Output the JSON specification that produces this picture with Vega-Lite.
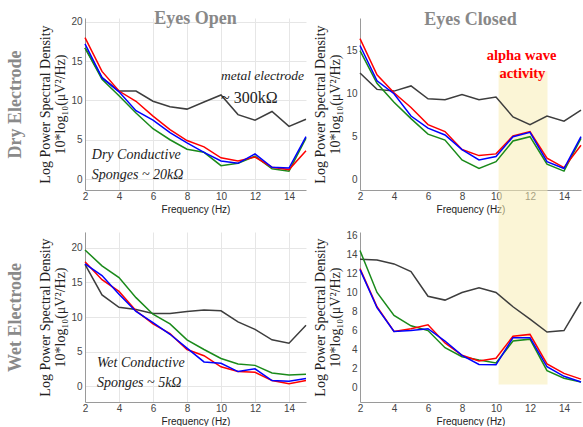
{
"$schema": "https://vega.github.io/schema/vega-lite/v6.json",
"padding": {"left": 6, "top": 9, "right": 0, "bottom": 0},
"background": "white",
"datasets": {
"psd": [
{"p":"DO","s":"s0","f":2,"v":16.7},{"p":"DO","s":"s0","f":3,"v":12.9},{"p":"DO","s":"s0","f":4,"v":11.2},{"p":"DO","s":"s0","f":5,"v":11.2},{"p":"DO","s":"s0","f":6,"v":9.9},{"p":"DO","s":"s0","f":7,"v":9.2},{"p":"DO","s":"s0","f":8,"v":8.9},{"p":"DO","s":"s0","f":9,"v":9.8},{"p":"DO","s":"s0","f":10,"v":10.7},{"p":"DO","s":"s0","f":11,"v":8.2},{"p":"DO","s":"s0","f":12,"v":7.5},{"p":"DO","s":"s0","f":13,"v":8.6},{"p":"DO","s":"s0","f":14,"v":6.7},{"p":"DO","s":"s0","f":15,"v":7.6},
{"p":"DO","s":"s1","f":2,"v":16.7},{"p":"DO","s":"s1","f":3,"v":12.7},{"p":"DO","s":"s1","f":4,"v":10.6},{"p":"DO","s":"s1","f":5,"v":8.4},{"p":"DO","s":"s1","f":6,"v":6.4},{"p":"DO","s":"s1","f":7,"v":5.0},{"p":"DO","s":"s1","f":8,"v":3.8},{"p":"DO","s":"s1","f":9,"v":3.4},{"p":"DO","s":"s1","f":10,"v":1.7},{"p":"DO","s":"s1","f":11,"v":2.0},{"p":"DO","s":"s1","f":12,"v":2.9},{"p":"DO","s":"s1","f":13,"v":1.3},{"p":"DO","s":"s1","f":14,"v":1.0},{"p":"DO","s":"s1","f":15,"v":5.2},
{"p":"DO","s":"s2","f":2,"v":18.0},{"p":"DO","s":"s2","f":3,"v":13.7},{"p":"DO","s":"s2","f":4,"v":11.2},{"p":"DO","s":"s2","f":5,"v":9.9},{"p":"DO","s":"s2","f":6,"v":8.0},{"p":"DO","s":"s2","f":7,"v":6.3},{"p":"DO","s":"s2","f":8,"v":4.9},{"p":"DO","s":"s2","f":9,"v":4.1},{"p":"DO","s":"s2","f":10,"v":2.7},{"p":"DO","s":"s2","f":11,"v":2.3},{"p":"DO","s":"s2","f":12,"v":2.8},{"p":"DO","s":"s2","f":13,"v":1.5},{"p":"DO","s":"s2","f":14,"v":1.2},{"p":"DO","s":"s2","f":15,"v":3.6},
{"p":"DO","s":"s3","f":2,"v":17.2},{"p":"DO","s":"s3","f":3,"v":12.9},{"p":"DO","s":"s3","f":4,"v":11.1},{"p":"DO","s":"s3","f":5,"v":8.7},{"p":"DO","s":"s3","f":6,"v":7.5},{"p":"DO","s":"s3","f":7,"v":5.9},{"p":"DO","s":"s3","f":8,"v":4.6},{"p":"DO","s":"s3","f":9,"v":3.4},{"p":"DO","s":"s3","f":10,"v":2.3},{"p":"DO","s":"s3","f":11,"v":2.0},{"p":"DO","s":"s3","f":12,"v":3.2},{"p":"DO","s":"s3","f":13,"v":1.5},{"p":"DO","s":"s3","f":14,"v":1.4},{"p":"DO","s":"s3","f":15,"v":5.4},
{"p":"DC","s":"s0","f":2,"v":12.4},{"p":"DC","s":"s0","f":3,"v":10.5},{"p":"DC","s":"s0","f":4,"v":10.3},{"p":"DC","s":"s0","f":5,"v":10.9},{"p":"DC","s":"s0","f":6,"v":9.4},{"p":"DC","s":"s0","f":7,"v":9.3},{"p":"DC","s":"s0","f":8,"v":9.9},{"p":"DC","s":"s0","f":9,"v":9.3},{"p":"DC","s":"s0","f":10,"v":9.6},{"p":"DC","s":"s0","f":11,"v":7.3},{"p":"DC","s":"s0","f":12,"v":6.4},{"p":"DC","s":"s0","f":13,"v":7.4},{"p":"DC","s":"s0","f":14,"v":6.8},{"p":"DC","s":"s0","f":15,"v":8.1},
{"p":"DC","s":"s1","f":2,"v":15.0},{"p":"DC","s":"s1","f":3,"v":11.2},{"p":"DC","s":"s1","f":4,"v":9.0},{"p":"DC","s":"s1","f":5,"v":7.1},{"p":"DC","s":"s1","f":6,"v":5.3},{"p":"DC","s":"s1","f":7,"v":4.6},{"p":"DC","s":"s1","f":8,"v":2.3},{"p":"DC","s":"s1","f":9,"v":1.3},{"p":"DC","s":"s1","f":10,"v":2.1},{"p":"DC","s":"s1","f":11,"v":4.5},{"p":"DC","s":"s1","f":12,"v":5.0},{"p":"DC","s":"s1","f":13,"v":1.8},{"p":"DC","s":"s1","f":14,"v":1.0},{"p":"DC","s":"s1","f":15,"v":4.8},
{"p":"DC","s":"s2","f":2,"v":16.4},{"p":"DC","s":"s2","f":3,"v":12.2},{"p":"DC","s":"s2","f":4,"v":10.1},{"p":"DC","s":"s2","f":5,"v":8.4},{"p":"DC","s":"s2","f":6,"v":6.4},{"p":"DC","s":"s2","f":7,"v":5.6},{"p":"DC","s":"s2","f":8,"v":3.5},{"p":"DC","s":"s2","f":9,"v":2.8},{"p":"DC","s":"s2","f":10,"v":3.0},{"p":"DC","s":"s2","f":11,"v":5.1},{"p":"DC","s":"s2","f":12,"v":5.6},{"p":"DC","s":"s2","f":13,"v":2.5},{"p":"DC","s":"s2","f":14,"v":1.4},{"p":"DC","s":"s2","f":15,"v":4.0},
{"p":"DC","s":"s3","f":2,"v":15.6},{"p":"DC","s":"s3","f":3,"v":11.5},{"p":"DC","s":"s3","f":4,"v":10.0},{"p":"DC","s":"s3","f":5,"v":7.4},{"p":"DC","s":"s3","f":6,"v":6.0},{"p":"DC","s":"s3","f":7,"v":5.2},{"p":"DC","s":"s3","f":8,"v":3.5},{"p":"DC","s":"s3","f":9,"v":2.3},{"p":"DC","s":"s3","f":10,"v":2.7},{"p":"DC","s":"s3","f":11,"v":5.0},{"p":"DC","s":"s3","f":12,"v":5.5},{"p":"DC","s":"s3","f":13,"v":2.1},{"p":"DC","s":"s3","f":14,"v":1.3},{"p":"DC","s":"s3","f":15,"v":5.0},
{"p":"WO","s":"s0","f":2,"v":17.6},{"p":"WO","s":"s0","f":3,"v":13.2},{"p":"WO","s":"s0","f":4,"v":11.4},{"p":"WO","s":"s0","f":5,"v":11.1},{"p":"WO","s":"s0","f":6,"v":10.5},{"p":"WO","s":"s0","f":7,"v":10.5},{"p":"WO","s":"s0","f":8,"v":10.8},{"p":"WO","s":"s0","f":9,"v":11.0},{"p":"WO","s":"s0","f":10,"v":10.9},{"p":"WO","s":"s0","f":11,"v":9.3},{"p":"WO","s":"s0","f":12,"v":8.2},{"p":"WO","s":"s0","f":13,"v":6.7},{"p":"WO","s":"s0","f":14,"v":6.2},{"p":"WO","s":"s0","f":15,"v":8.8},
{"p":"WO","s":"s1","f":2,"v":19.7},{"p":"WO","s":"s1","f":3,"v":17.4},{"p":"WO","s":"s1","f":4,"v":15.7},{"p":"WO","s":"s1","f":5,"v":12.8},{"p":"WO","s":"s1","f":6,"v":10.4},{"p":"WO","s":"s1","f":7,"v":9.0},{"p":"WO","s":"s1","f":8,"v":6.7},{"p":"WO","s":"s1","f":9,"v":5.3},{"p":"WO","s":"s1","f":10,"v":4.0},{"p":"WO","s":"s1","f":11,"v":3.2},{"p":"WO","s":"s1","f":12,"v":3.0},{"p":"WO","s":"s1","f":13,"v":1.9},{"p":"WO","s":"s1","f":14,"v":1.6},{"p":"WO","s":"s1","f":15,"v":1.7},
{"p":"WO","s":"s2","f":2,"v":18.0},{"p":"WO","s":"s2","f":3,"v":15.4},{"p":"WO","s":"s2","f":4,"v":13.7},{"p":"WO","s":"s2","f":5,"v":10.9},{"p":"WO","s":"s2","f":6,"v":9.0},{"p":"WO","s":"s2","f":7,"v":7.6},{"p":"WO","s":"s2","f":8,"v":5.3},{"p":"WO","s":"s2","f":9,"v":4.4},{"p":"WO","s":"s2","f":10,"v":2.8},{"p":"WO","s":"s2","f":11,"v":2.1},{"p":"WO","s":"s2","f":12,"v":2.0},{"p":"WO","s":"s2","f":13,"v":0.8},{"p":"WO","s":"s2","f":14,"v":0.35},{"p":"WO","s":"s2","f":15,"v":0.8},
{"p":"WO","s":"s3","f":2,"v":17.7},{"p":"WO","s":"s3","f":3,"v":16.0},{"p":"WO","s":"s3","f":4,"v":13.3},{"p":"WO","s":"s3","f":5,"v":10.8},{"p":"WO","s":"s3","f":6,"v":9.2},{"p":"WO","s":"s3","f":7,"v":7.5},{"p":"WO","s":"s3","f":8,"v":5.5},{"p":"WO","s":"s3","f":9,"v":3.5},{"p":"WO","s":"s3","f":10,"v":3.3},{"p":"WO","s":"s3","f":11,"v":2.1},{"p":"WO","s":"s3","f":12,"v":2.5},{"p":"WO","s":"s3","f":13,"v":0.8},{"p":"WO","s":"s3","f":14,"v":0.7},{"p":"WO","s":"s3","f":15,"v":1.1},
{"p":"WC","s":"s0","f":2,"v":13.5},{"p":"WC","s":"s0","f":3,"v":13.4},{"p":"WC","s":"s0","f":4,"v":13.0},{"p":"WC","s":"s0","f":5,"v":12.2},{"p":"WC","s":"s0","f":6,"v":9.6},{"p":"WC","s":"s0","f":7,"v":9.2},{"p":"WC","s":"s0","f":8,"v":10.0},{"p":"WC","s":"s0","f":9,"v":10.5},{"p":"WC","s":"s0","f":10,"v":10.0},{"p":"WC","s":"s0","f":11,"v":8.5},{"p":"WC","s":"s0","f":12,"v":7.2},{"p":"WC","s":"s0","f":13,"v":5.85},{"p":"WC","s":"s0","f":14,"v":6.0},{"p":"WC","s":"s0","f":15,"v":9.0},
{"p":"WC","s":"s1","f":2,"v":14.4},{"p":"WC","s":"s1","f":3,"v":10.0},{"p":"WC","s":"s1","f":4,"v":7.6},{"p":"WC","s":"s1","f":5,"v":6.5},{"p":"WC","s":"s1","f":6,"v":6.0},{"p":"WC","s":"s1","f":7,"v":4.2},{"p":"WC","s":"s1","f":8,"v":3.25},{"p":"WC","s":"s1","f":9,"v":2.9},{"p":"WC","s":"s1","f":10,"v":2.6},{"p":"WC","s":"s1","f":11,"v":4.9},{"p":"WC","s":"s1","f":12,"v":5.1},{"p":"WC","s":"s1","f":13,"v":1.8},{"p":"WC","s":"s1","f":14,"v":1.0},{"p":"WC","s":"s1","f":15,"v":0.6},
{"p":"WC","s":"s2","f":2,"v":12.5},{"p":"WC","s":"s2","f":3,"v":8.5},{"p":"WC","s":"s2","f":4,"v":5.9},{"p":"WC","s":"s2","f":5,"v":6.2},{"p":"WC","s":"s2","f":6,"v":6.6},{"p":"WC","s":"s2","f":7,"v":4.7},{"p":"WC","s":"s2","f":8,"v":3.4},{"p":"WC","s":"s2","f":9,"v":2.8},{"p":"WC","s":"s2","f":10,"v":3.1},{"p":"WC","s":"s2","f":11,"v":5.4},{"p":"WC","s":"s2","f":12,"v":5.6},{"p":"WC","s":"s2","f":13,"v":2.5},{"p":"WC","s":"s2","f":14,"v":1.5},{"p":"WC","s":"s2","f":15,"v":0.9},
{"p":"WC","s":"s3","f":2,"v":12.4},{"p":"WC","s":"s3","f":3,"v":8.4},{"p":"WC","s":"s3","f":4,"v":5.9},{"p":"WC","s":"s3","f":5,"v":6.0},{"p":"WC","s":"s3","f":6,"v":6.2},{"p":"WC","s":"s3","f":7,"v":4.9},{"p":"WC","s":"s3","f":8,"v":3.4},{"p":"WC","s":"s3","f":9,"v":2.45},{"p":"WC","s":"s3","f":10,"v":2.4},{"p":"WC","s":"s3","f":11,"v":5.25},{"p":"WC","s":"s3","f":12,"v":5.25},{"p":"WC","s":"s3","f":13,"v":2.2},{"p":"WC","s":"s3","f":14,"v":1.2},{"p":"WC","s":"s3","f":15,"v":0.6}
]
},
"vconcat": [
{
"spacing": 4,
"hconcat": [
{
"width": 221, "height": 172,
"title": {"text": "Eyes Open", "offset": -11},
"resolve": {"axis": {"y": "independent"}},
"layer": [
{"data": {"name": "psd"}, "transform": [{"filter": "datum.p == 'DO'"}],
 "mark": {"type": "line", "strokeWidth": 1.5},
 "encoding": {
  "x": {"field": "f", "type": "quantitative", "scale": {"domain": [2, 15], "nice": false}, "axis": {"values": [2,4,6,8,10,12,14], "tickCount": 20, "format": "d", "labelOverlap": false, "labelFlush": false, "title": "Frequency (Hz)"}},
  "y": {"field": "v", "type": "quantitative", "scale": {"domain": [-1.4, 20.5], "nice": false, "zero": false}, "axis": {"values": [0,5,10,15,20], "tickCount": 20, "format": "d", "title": ["Log Power Spectral Density", "10*log₁₀(μV²/Hz)"], "titlePadding": 3}},
  "color": {"field": "s", "type": "nominal", "scale": {"domain": ["s0","s1","s2","s3"], "range": ["#3d3d3d","#1a8a1a","#ff0000","#0000ff"]}, "legend": null}
 }},
{"data": {"values": [{}]}, "mark": {"type": "text", "text": "metal electrode", "font": "Liberation Serif", "fontStyle": "italic", "fontSize": 13.5, "align": "left", "baseline": "middle", "color": "#222"},
 "encoding": {"x": {"datum": 10.0, "type": "quantitative"}, "y": {"datum": 13.1, "type": "quantitative", "axis": {"orient": "left", "title": "Dry Electrode", "labels": false, "ticks": false, "grid": false, "domainOpacity": 0, "titleFont": "Liberation Serif", "titleFontSize": 18, "titleFontWeight": "bold", "titleColor": "#8a8a8a", "titlePadding": 61}}}},
{"data": {"values": [{}]}, "mark": {"type": "text", "text": "~ 300kΩ", "font": "Liberation Serif", "fontSize": 16, "align": "left", "baseline": "middle", "color": "#222"},
 "encoding": {"x": {"datum": 10.0, "type": "quantitative"}, "y": {"datum": 10.3, "type": "quantitative", "axis": null}}},
{"data": {"values": [{}]}, "mark": {"type": "text", "text": "Dry Conductive", "font": "Liberation Serif", "fontStyle": "italic", "fontSize": 14, "align": "left", "baseline": "middle", "color": "#222"},
 "encoding": {"x": {"datum": 2.4, "type": "quantitative"}, "y": {"datum": 3.1, "type": "quantitative", "axis": null}}},
{"data": {"values": [{}]}, "mark": {"type": "text", "text": "Sponges ~ 20kΩ", "font": "Liberation Serif", "fontStyle": "italic", "fontSize": 14, "align": "left", "baseline": "middle", "color": "#222"},
 "encoding": {"x": {"datum": 2.4, "type": "quantitative"}, "y": {"datum": 0.5, "type": "quantitative", "axis": null}}}
]
},
{
"width": 221, "height": 172,
"title": {"text": "Eyes Closed", "offset": -11},
"layer": [
{"data": {"values": [{}]}, "mark": {"type": "rect", "color": "#f8ecb4", "opacity": 0.55, "clip": false},
 "encoding": {
  "x": {"datum": 10.15, "type": "quantitative", "scale": {"domain": [2, 15], "nice": false}, "axis": {"values": [2,4,6,8,10,12,14], "tickCount": 20, "format": "d", "labelOverlap": false, "labelFlush": false, "title": "Frequency (Hz)"}},
  "x2": {"datum": 13.03},
  "y": {"datum": 12.6, "type": "quantitative", "scale": {"domain": [-1.2, 18.8], "nice": false, "zero": false}, "axis": {"values": [0,5,10,15], "tickCount": 20, "format": "d", "title": ["Log Power Spectral Density", "10*log₁₀(μV²/Hz)"], "titlePadding": 3}},
  "y2": {"datum": -5.85}
 }},
{"data": {"name": "psd"}, "transform": [{"filter": "datum.p == 'DC'"}],
 "mark": {"type": "line", "strokeWidth": 1.5},
 "encoding": {
  "x": {"field": "f", "type": "quantitative", "scale": {"domain": [2, 15], "nice": false}},
  "y": {"field": "v", "type": "quantitative", "scale": {"domain": [-1.2, 18.8], "nice": false, "zero": false}},
  "color": {"field": "s", "type": "nominal", "scale": {"domain": ["s0","s1","s2","s3"], "range": ["#3d3d3d","#1a8a1a","#ff0000","#0000ff"]}, "legend": null}
 }},
{"data": {"values": [{}]}, "mark": {"type": "text", "text": "alpha wave", "font": "Liberation Serif", "fontWeight": "bold", "fontSize": 14.5, "align": "center", "baseline": "middle", "color": "#ff0000"},
 "encoding": {"x": {"datum": 11.5, "type": "quantitative"}, "y": {"datum": 14.4, "type": "quantitative"}}},
{"data": {"values": [{}]}, "mark": {"type": "text", "text": "activity", "font": "Liberation Serif", "fontWeight": "bold", "fontSize": 14.5, "align": "center", "baseline": "middle", "color": "#ff0000"},
 "encoding": {"x": {"datum": 11.55, "type": "quantitative"}, "y": {"datum": 12.3, "type": "quantitative"}}}
]
}
]
},
{
"spacing": 4,
"hconcat": [
{
"width": 221, "height": 170,
"resolve": {"axis": {"y": "independent"}},
"layer": [
{"data": {"name": "psd"}, "transform": [{"filter": "datum.p == 'WO'"}],
 "mark": {"type": "line", "strokeWidth": 1.5},
 "encoding": {
  "x": {"field": "f", "type": "quantitative", "scale": {"domain": [2, 15], "nice": false}, "axis": {"values": [2,4,6,8,10,12,14], "tickCount": 20, "format": "d", "labelOverlap": false, "labelFlush": false, "title": "Frequency (Hz)"}},
  "y": {"field": "v", "type": "quantitative", "scale": {"domain": [-2.3, 22.3], "nice": false, "zero": false}, "axis": {"values": [0,5,10,15,20], "tickCount": 20, "format": "d", "title": ["Log Power Spectral Density", "10*log₁₀(μV²/Hz)"], "titlePadding": 3}},
  "color": {"field": "s", "type": "nominal", "scale": {"domain": ["s0","s1","s2","s3"], "range": ["#3d3d3d","#1a8a1a","#ff0000","#0000ff"]}, "legend": null}
 }},
{"data": {"values": [{}]}, "mark": {"type": "text", "text": "Wet Conductive", "font": "Liberation Serif", "fontStyle": "italic", "fontSize": 14, "align": "left", "baseline": "middle", "color": "#222"},
 "encoding": {"x": {"datum": 2.7, "type": "quantitative"}, "y": {"datum": 3.3, "type": "quantitative", "axis": {"orient": "left", "title": "Wet Electrode", "labels": false, "ticks": false, "grid": false, "domainOpacity": 0, "titleFont": "Liberation Serif", "titleFontSize": 18, "titleFontWeight": "bold", "titleColor": "#8a8a8a", "titlePadding": 61}}}},
{"data": {"values": [{}]}, "mark": {"type": "text", "text": "Sponges ~ 5kΩ", "font": "Liberation Serif", "fontStyle": "italic", "fontSize": 14, "align": "left", "baseline": "middle", "color": "#222"},
 "encoding": {"x": {"datum": 2.7, "type": "quantitative"}, "y": {"datum": 0.4, "type": "quantitative", "axis": null}}}
]
},
{
"width": 221, "height": 170,
"layer": [
{"data": {"values": [{}]}, "mark": {"type": "rect", "color": "#f8ecb4", "opacity": 0.55, "clip": false},
 "encoding": {
  "x": {"datum": 10.15, "type": "quantitative", "scale": {"domain": [2, 15], "nice": false}, "axis": {"values": [2,4,6,8,10,12,14], "tickCount": 20, "format": "d", "labelOverlap": false, "labelFlush": false, "title": "Frequency (Hz)"}},
  "x2": {"datum": 13.03},
  "y": {"datum": 16.56, "type": "quantitative", "scale": {"domain": [-1.5, 16.35], "nice": false, "zero": false}, "axis": {"values": [0,2,4,6,8,10,12,14,16], "tickCount": 20, "format": "d", "title": ["Log Power Spectral Density", "10*log₁₀(μV²/Hz)"], "titlePadding": 3}},
  "y2": {"datum": 0.35}
 }},
{"data": {"name": "psd"}, "transform": [{"filter": "datum.p == 'WC'"}],
 "mark": {"type": "line", "strokeWidth": 1.5},
 "encoding": {
  "x": {"field": "f", "type": "quantitative", "scale": {"domain": [2, 15], "nice": false}},
  "y": {"field": "v", "type": "quantitative", "scale": {"domain": [-1.5, 16.35], "nice": false, "zero": false}},
  "color": {"field": "s", "type": "nominal", "scale": {"domain": ["s0","s1","s2","s3"], "range": ["#3d3d3d","#1a8a1a","#ff0000","#0000ff"]}, "legend": null}
 }}
]
}
]
}
],
"spacing": 0,
"config": {
 "view": {"stroke": null},
 "axis": {"gridColor": "#e6e6e6", "domainColor": "#9a9a9a", "labelColor": "#444", "labelFont": "Liberation Sans", "labelFontSize": 10, "ticks": false, "labelPadding": 1, "titleColor": "#222", "titleFontWeight": "normal"},
 "axisX": {"titleFont": "Liberation Sans", "titleFontSize": 10, "titlePadding": 3},
 "axisY": {"titleFont": "Liberation Serif", "titleFontSize": 14, "titleLineHeight": 15, "labelPadding": 3},
 "title": {"font": "Liberation Serif", "fontSize": 18, "fontWeight": "bold", "color": "#888888", "anchor": "middle", "frame": "group"}
}
}
